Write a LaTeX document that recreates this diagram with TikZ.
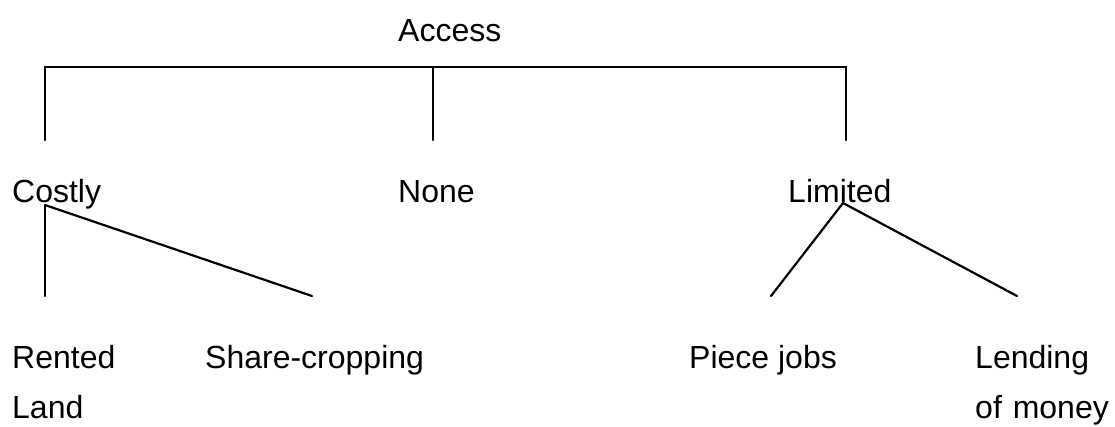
\documentclass[tikz,border=0pt]{standalone}
\usepackage{fontspec}
\setmainfont{Liberation Sans}
\begin{document}
\begin{tikzpicture}[x=1pt,y=-1pt,
  lbl/.style={anchor=base west,inner sep=0pt,font=\fontsize{32}{38}\selectfont},
  edge/.style={line width=2.2pt,line cap=round}]
\useasboundingbox (0,0) rectangle (1115,426);
\node[lbl] (access) at (398,41) {Access};
\node[lbl] (costly) at (12,202) {Costly};
\node[lbl] (none) at (398,202) {None};
\node[lbl] (limited) at (788,202) {Limited};
\node[lbl] (rented) at (12,368) {Rented};
\node[lbl] (land) at (12,418) {Land};
\node[lbl] (share) at (205,368) {Share-cropping};
\node[lbl] (piece) at (689,368) {Piece jobs};
\node[lbl] (lending) at (975,368) {Lending};
\node[lbl] (money) at (975,418) {of\hspace{2pt} money};
% bracket
\coordinate (hl) at (45,67);
\coordinate (hm) at (433,67);
\coordinate (hr) at (846,67);
\coordinate (cl) at (45,140);
\coordinate (cm) at (433,140);
\coordinate (cr) at (846,140);
\draw[edge] (cl) -- (hl) -- (hr) -- (cr);
\draw[edge] (hm) -- (cm);
% Costly branches
\coordinate (croot) at (45,205);
\coordinate (rtop) at (45,296);
\coordinate (stop) at (312,296);
\draw[edge] (croot) -- (rtop);
\draw[edge] (croot) -- (stop);
% Limited branches
\coordinate (lroot) at (843,203);
\coordinate (ptop) at (771,296);
\coordinate (ltop) at (1017,296);
\draw[edge] (lroot) -- (ptop);
\draw[edge] (lroot) -- (ltop);
\end{tikzpicture}
\end{document}
